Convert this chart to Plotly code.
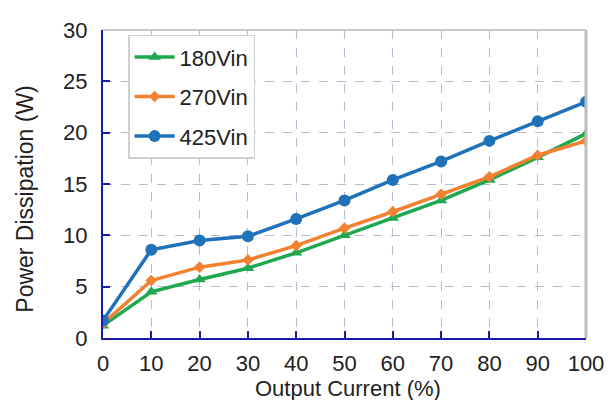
import plotly.graph_objects as go

current = [0, 10, 20, 30, 40, 50, 60, 70, 80, 90, 100]
v180 = [1.2, 4.5, 5.7, 6.8, 8.3, 10.0, 11.7, 13.4, 15.4, 17.6, 19.9]
v270 = [1.4, 5.6, 6.9, 7.6, 9.0, 10.7, 12.3, 14.0, 15.7, 17.8, 19.2]
v425 = [1.7, 8.6, 9.5, 9.9, 11.6, 13.4, 15.4, 17.2, 19.2, 21.1, 23.0]

x_title = "Output Current (%)"
y_title = "Power Dissipation (W)"

series = [
    ("180Vin", v180, "#1fa84f", "triangle-up", 11),
    ("270Vin", v270, "#f28130", "diamond", 9),
    ("425Vin", v425, "#1f72ba", "circle", 12),
]

FONT = "Liberation Sans, Arial, sans-serif"

fig = go.Figure()
for name, vals, color, sym, size in series:
    fig.add_trace(go.Scatter(
        x=current, y=vals, name=name, mode="lines+markers",
        legendgroup=name,
        line=dict(color=color, width=3.5),
        marker=dict(symbol=sym, size=size, color=color),
    ))

fig.update_layout(
    width=606, height=392,
    margin=dict(l=95, r=27, t=10, b=62),
    paper_bgcolor="white", plot_bgcolor="white",
    font=dict(family=FONT, size=21, color="#222"),
    showlegend=True,
    legend=dict(
        x=0.052, y=0.985, xanchor="left", yanchor="top",
        bgcolor="white", bordercolor="#d0d0d0", borderwidth=1.5,
        font=dict(family=FONT, size=22, color="#222"),
        tracegroupgap=8, itemwidth=40,
    ),
    xaxis=dict(
        range=[0, 100], tickvals=current, ticks="inside", ticklen=7,
        tickcolor="#1a1aa8", tickwidth=1.5,
        showline=True, linecolor="#1a1aa8", linewidth=2,
        showgrid=True, gridcolor="#b4bcd4", griddash="dash", gridwidth=1,
        zeroline=False, ticklabelstandoff=5, ticklabeloverflow="allow",
        tickfont=dict(family=FONT, size=22),
    ),
    yaxis=dict(
        range=[0, 30], dtick=5, ticks="inside", ticklen=7,
        tickcolor="#1a1aa8", tickwidth=1.5,
        showline=True, linecolor="#1a1aa8", linewidth=2,
        showgrid=True, gridcolor="#b4bcd4", griddash="dash", gridwidth=1,
        zeroline=False, ticklabelstandoff=9, ticklabeloverflow="allow",
        tickfont=dict(family=FONT, size=22),
    ),
    annotations=[
        dict(text=x_title, xref="paper", yref="paper", x=0.508, y=-0.163,
             xanchor="center", yanchor="middle", showarrow=False,
             font=dict(family=FONT, size=22, color="#222")),
        dict(text=y_title, xref="paper", yref="paper", x=-0.161, y=0.453,
             xanchor="center", yanchor="middle", showarrow=False, textangle=-90,
             font=dict(family=FONT, size=23, color="#222")),
    ],
    shapes=[
        dict(type="line", xref="paper", yref="paper", x0=0, x1=1, y0=1, y1=1,
             line=dict(color="#c8c8c8", width=2)),
        dict(type="line", xref="paper", yref="paper", x0=1, x1=1, y0=0, y1=1,
             line=dict(color="#bdbdbd", width=3)),
    ],
)

fig.write_html("out.html")
